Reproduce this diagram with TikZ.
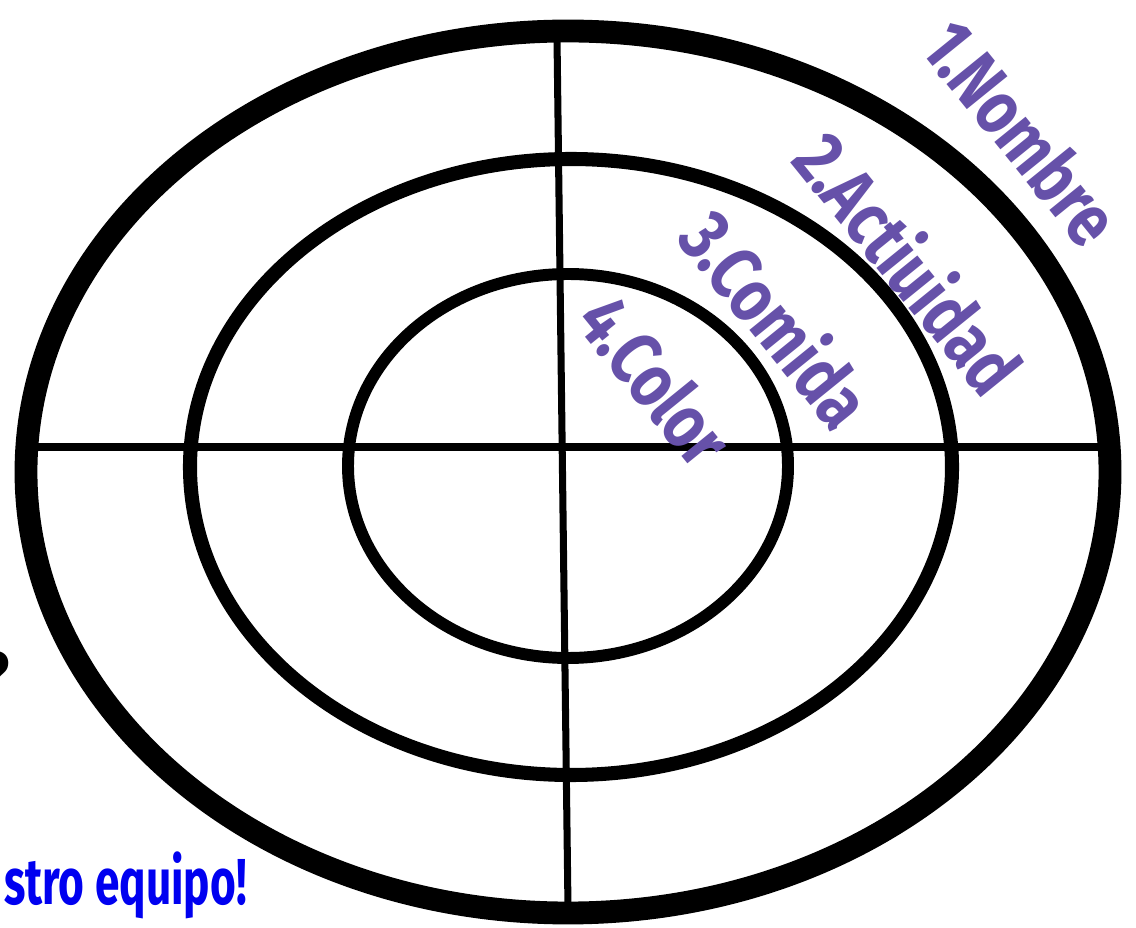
\documentclass[tikz,border=0pt]{standalone}
\usepackage{fontspec}
\usepackage{tikz}
\usetikzlibrary{positioning}
\newfontfamily\labelfont[FakeStretch=0.8]{Fira Sans}
\newfontfamily\bannerfont[FakeStretch=0.68]{Fira Sans}
\definecolor{RingInk}{HTML}{000000}
\definecolor{RingPurple}{HTML}{6651A9}
\definecolor{RingBlue}{HTML}{0000F0}
\tikzset{
  ringlabel/.style={font=\labelfont\bfseries\fontsize{43}{43}\selectfont, text=RingPurple, rotate=-51, inner sep=0pt},
  bluelabel/.style={font=\bannerfont\bfseries\fontsize{37}{37}\selectfont, text=RingBlue, inner sep=0pt},
  ringline/.style={draw=RingInk, line width=4pt}
}
\begin{document}
\begin{tikzpicture}[x=0.02cm, y=-0.02cm]
\useasboundingbox (0,0) rectangle (1136,928);
% rings
\draw[RingInk, line width=13pt] (568,472) ellipse [x radius=542, y radius=441];
\draw[RingInk, line width=8pt] (571,467) ellipse [x radius=381, y radius=308];
\draw[RingInk, line width=6.8pt] (568,466) ellipse [x radius=220, y radius=192];
% cross
\coordinate (top) at (557,38);
\coordinate (bottom) at (568,908);
\coordinate (left) at (30,447);
\coordinate (right) at (1110,447);
\draw[ringline] (top) -- (bottom);
\draw[ringline] (left) -- (right);
% labels
\node[ringlabel] (nombre) at (1022,132) {1.Nombre};
\node[ringlabel] (actividad) at (910,262) {2.Actiuidad};
\node[ringlabel] (comida) at (778,318) {3.Comida};
\node[ringlabel] (color) at (656,380) {4.Color};
\node[bluelabel, anchor=base east] (equipo) at (247,904) {stro equipo!};
\node[font=\labelfont\bfseries\fontsize{40}{40}\selectfont, anchor=base east, inner sep=0pt] (pregunta) at (10,702) {?};
\end{tikzpicture}
\end{document}
